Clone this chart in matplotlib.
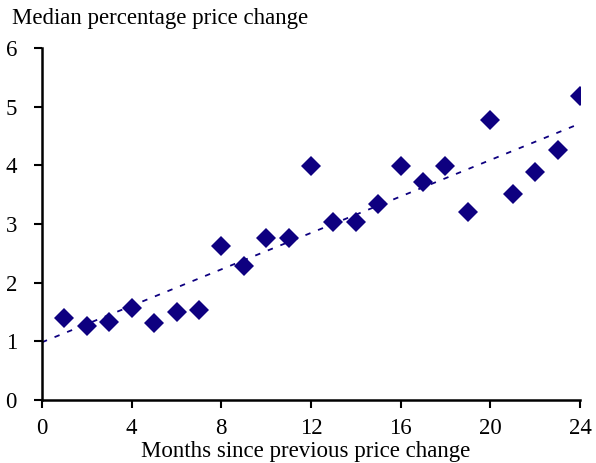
import numpy as np
import matplotlib
matplotlib.use("Agg")
import matplotlib.pyplot as plt

months = list(range(1, 25))
median_change = [1.40, 1.26, 1.33, 1.57, 1.31, 1.50, 1.53, 2.62, 2.28, 2.76, 2.76, 3.99,
                 3.03, 3.03, 3.34, 3.99, 3.72, 3.99, 3.20, 4.77, 3.51, 3.89, 4.26, 5.18]
x_ticks = [0, 4, 8, 12, 16, 20, 24]
y_ticks = [0, 1, 2, 3, 4, 5, 6]

plt.rcParams['font.family'] = ['Liberation Serif', 'DejaVu Serif']
color = '#0e0080'
fs = 16.5

fig = plt.figure(figsize=(5.96, 4.63), dpi=100)
ax = fig.add_axes([42/596, 1-400/463, (580-42)/596, (400-48)/463])

slope, intercept = np.polyfit(months, median_change, 1)
xt = np.array([0, 24])
ax.plot(xt, intercept + slope*xt, color=color, lw=1.3, linestyle=(0, (3, 4.5)), zorder=2)
ax.plot(months, median_change, linestyle='none', marker='D', ms=10, color=color,
        markeredgewidth=0, zorder=3)

ax.set_xlim(0, 24)
ax.set_ylim(0, 6)
ax.set_xticks(x_ticks)
ax.set_yticks(y_ticks)
for s in ['top', 'right']:
    ax.spines[s].set_visible(False)
for s in ['left', 'bottom']:
    ax.spines[s].set_linewidth(1.8)
    ax.spines[s].set_color('black')
ax.tick_params(axis='both', direction='out', length=6, width=1.5, labelsize=fs, colors='black')
ax.tick_params(axis='x', pad=7)
ax.tick_params(axis='y', pad=12)

fig.text(12/596, 1-8/463, 'Median percentage price change', fontsize=fs, ha='left', va='top')
fig.text(306/596, 1.5/463, 'Months since previous price change', fontsize=fs, ha='center', va='bottom')

fig.savefig('out.png', dpi=100)
